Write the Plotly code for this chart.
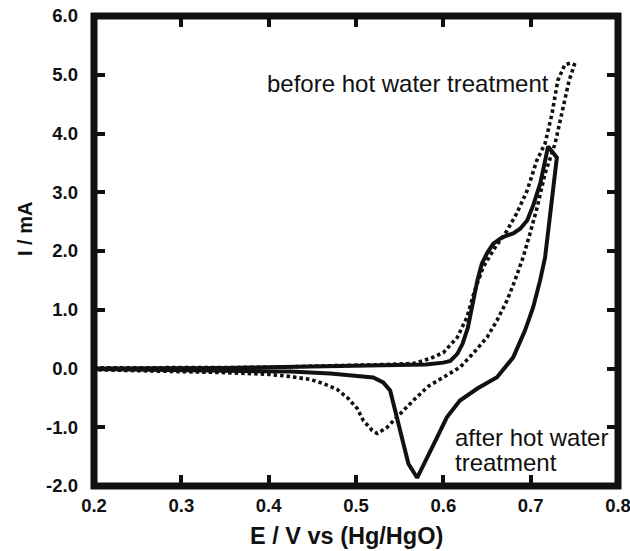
import plotly.graph_objects as go

# "after hot water treatment" (solid) — potential sweep order
after_E = [0.200, 0.250, 0.300, 0.350, 0.400, 0.450, 0.500, 0.550, 0.580, 0.600,
           0.608, 0.616, 0.622, 0.628, 0.633, 0.639, 0.644, 0.650, 0.657, 0.665,
           0.672, 0.680, 0.688, 0.696, 0.703, 0.711, 0.716, 0.720,
           0.730, 0.7256, 0.722, 0.7165, 0.7108, 0.7028, 0.6936, 0.680, 0.6615, 0.639,
           0.619, 0.604, 0.593, 0.5815, 0.570, 0.560, 0.5563, 0.5506, 0.5449, 0.5391,
           0.5311, 0.5197, 0.4706, 0.4248, 0.350, 0.300, 0.250, 0.200]
after_I = [0.00, 0.00, 0.01, 0.01, 0.02, 0.03, 0.04, 0.05, 0.07, 0.10,
           0.13, 0.25, 0.42, 0.69, 1.10, 1.50, 1.78, 1.96, 2.12, 2.21,
           2.26, 2.30, 2.38, 2.52, 2.78, 3.15, 3.50, 3.78,
           3.59, 3.03, 2.47, 1.89, 1.50, 1.04, 0.65, 0.19, -0.15, -0.34,
           -0.545, -0.83, -1.17, -1.51, -1.86, -1.62, -1.395, -1.055, -0.68, -0.374,
           -0.238, -0.153, -0.085, -0.051, -0.04, -0.03, -0.02, -0.01]

# "before hot water treatment" (dotted) — potential sweep order
before_E = [0.200, 0.250, 0.300, 0.350, 0.400, 0.450, 0.500, 0.540, 0.5655, 0.585,
            0.600, 0.616, 0.627, 0.636, 0.6455, 0.657, 0.673, 0.684, 0.696, 0.707,
            0.7165, 0.7245, 0.731, 0.739, 0.746,
            0.750, 0.744, 0.736, 0.728, 0.7165, 0.7074, 0.6993, 0.6913, 0.682, 0.673,
            0.6615, 0.650, 0.634, 0.619, 0.600, 0.583, 0.5655, 0.554, 0.5449, 0.5357,
            0.5243, 0.5186, 0.5083, 0.5014, 0.4911, 0.4785, 0.4625, 0.4477, 0.4248, 0.400,
            0.350, 0.300, 0.250, 0.200]
before_I = [0.01, 0.01, 0.01, 0.02, 0.02, 0.04, 0.05, 0.07, 0.085, 0.17,
            0.27, 0.53, 0.87, 1.33, 1.72, 2.01, 2.35, 2.64, 3.03, 3.54,
            3.83, 4.34, 4.90, 5.17, 5.20,
            5.17, 4.90, 4.34, 3.83, 3.32, 2.74, 2.30, 1.89, 1.50, 1.16,
            0.82, 0.53, 0.255, 0.02, -0.15, -0.30, -0.545, -0.715, -0.85, -1.00,
            -1.106, -1.055, -0.885, -0.68, -0.51, -0.357, -0.255, -0.187, -0.136, -0.10,
            -0.07, -0.05, -0.03, -0.02]

x_ticks = [0.2, 0.3, 0.4, 0.5, 0.6, 0.7, 0.8]
y_ticks = [-2.0, -1.0, 0.0, 1.0, 2.0, 3.0, 4.0, 5.0, 6.0]
x_ticktext = ["0.2", "0.3", "0.4", "0.5", "0.6", "0.7", "0.8"]
y_ticktext = ["-2.0", "-1.0", "0.0", "1.0", "2.0", "3.0", "4.0", "5.0", "6.0"]

INK = "#111111"

fig = go.Figure()
fig.add_trace(go.Scatter(x=before_E, y=before_I, mode="lines",
                         line=dict(color=INK, width=3.6, dash="3.5px,3px"),
                         showlegend=False))
fig.add_trace(go.Scatter(x=after_E, y=after_I, mode="lines",
                         line=dict(color=INK, width=4),
                         showlegend=False))

axis_common = dict(showgrid=False, zeroline=False, showline=False, automargin=False,
                   ticks="inside", ticklen=11, tickwidth=4, tickcolor=INK,
                   mirror="ticks", ticklabeloverflow="allow",
                   tickfont=dict(family="Liberation Sans", size=18.5, color=INK, weight="bold"))

fig.update_layout(
    width=630, height=551,
    margin=dict(l=94, r=12, t=16, b=65),
    paper_bgcolor="white", plot_bgcolor="white",
    xaxis=dict(range=[0.2, 0.8], tickmode="array", tickvals=x_ticks, ticktext=x_ticktext,
               ticklabelstandoff=6, **axis_common),
    yaxis=dict(range=[-2.0, 6.0], tickmode="array", tickvals=y_ticks, ticktext=y_ticktext,
               ticklabelstandoff=15, **axis_common),
    shapes=[dict(type="rect", xref="paper", yref="paper", x0=0, x1=1, y0=0, y1=1,
                 line=dict(color=INK, width=7), layer="above")],
    annotations=[
        dict(text="before hot water treatment", xref="paper", yref="paper",
             x=0.326, y=0.857, xanchor="left", yanchor="middle", showarrow=False,
             font=dict(family="Liberation Sans", size=24, color=INK)),
        dict(text="after hot water", xref="paper", yref="paper",
             x=0.685, y=1 - (437 - 16) / 470, xanchor="left", yanchor="middle", showarrow=False,
             font=dict(family="Liberation Sans", size=24, color=INK)),
        dict(text="treatment", xref="paper", yref="paper",
             x=0.685, y=1 - (462 - 16) / 470, xanchor="left", yanchor="middle", showarrow=False,
             font=dict(family="Liberation Sans", size=24, color=INK)),
        dict(text="E / V vs (Hg/HgO)", xref="paper", yref="paper",
             x=0.482, y=1 - (536 - 16) / 470, xanchor="center", yanchor="middle", showarrow=False,
             font=dict(family="Liberation Sans", size=23.5, color=INK, weight="bold")),
        dict(text="I / mA", xref="paper", yref="paper", textangle=-90,
             x=(25 - 94) / 524, y=1 - (229 - 16) / 470, xanchor="center", yanchor="middle", showarrow=False,
             font=dict(family="Liberation Sans", size=20, color=INK, weight="bold")),
    ],
)

fig.write_html("out.html", config={"displayModeBar": False},
               post_script="document.body.style.margin='0';")
